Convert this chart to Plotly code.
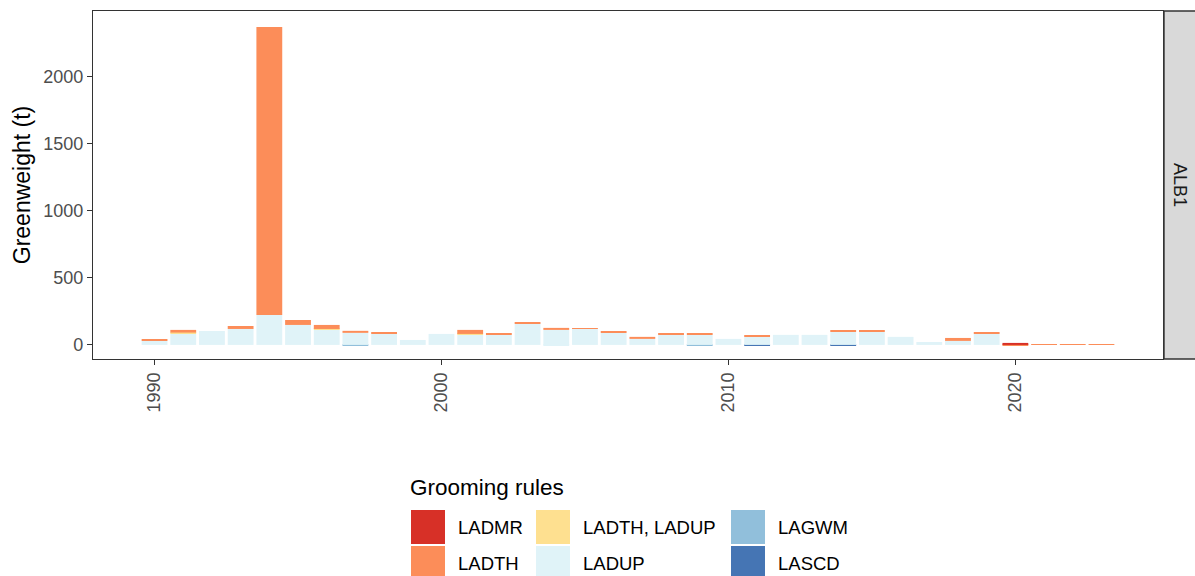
import plotly.graph_objects as go

# Data
years = list(range(1990, 2024))

ladup = [30, 82, 104, 119, 224, 149, 114, 90, 82, 37, 82, 75, 75, 159, 112, 119, 90,
         45, 75, 75, 45, 60, 75, 75, 97, 97, 60, 22, 30, 82, None, None, None, None]
ladth = [7, 20, None, 22, 2146, 37, 30, 15, 7, None, None, 30, 7, 5, 15, 7, 7,
         15, 7, 7, None, 7, None, None, 7, 7, None, None, 22, 7, -5, 6, 6, 6]
ladth_ladup = {1991: 10, 1996: 5, 2001: 7}
ladup_neg = {2004: -6}
lagwm = {1997: -7, 2009: -7}
lascd = {2011: -7, 2014: -7}
ladmr = {2020: 15}

rules = ['LADMR', 'LADTH', 'LADTH, LADUP', 'LADUP', 'LAGWM', 'LASCD']
colors = ['#D73027', '#FC8D59', '#FEE090', '#E0F3F8', '#91BFDB', '#4575B4']
col = dict(zip(rules, colors))

FONT = 'Liberation Sans, Arial, sans-serif'

# panel geometry in px
W, H = 1195, 576
L, R, T, B = 93, 1163, 11, 359


def px_x(p):
    return (p - L) / (R - L)


def px_y(p):
    return (B - p) / (B - T)


def sparse(d):
    return [d.get(y) for y in years]


fig = go.Figure()
# stacking order bottom -> top (ggplot puts first level on top)
series = [
    ('LASCD', sparse(lascd)),
    ('LAGWM', sparse(lagwm)),
    ('LADUP', ladup),
    ('LADTH, LADUP', sparse(ladth_ladup)),
    ('LADTH', ladth),
    ('LADMR', sparse(ladmr)),
]
for name, vals in series:
    fig.add_trace(go.Bar(x=years, y=vals, name=name, marker_color=col[name],
                         marker_line_width=0, showlegend=False))
fig.add_trace(go.Bar(x=years, y=sparse(ladup_neg), name='LADUP', marker_color=col['LADUP'],
                     marker_line_width=0, showlegend=False))

fig.update_layout(
    width=W, height=H,
    margin=dict(l=L, r=W - R, t=T, b=H - B),
    barmode='relative', bargap=0.1,
    plot_bgcolor='white', paper_bgcolor='white',
    font=dict(family=FONT, color='black'),
    showlegend=False,
)
fig.update_xaxes(range=[1987.855, 2025.145], tickvals=[1990, 2000, 2010, 2020],
                 tickangle=-90, ticks='outside', ticklen=5, tickwidth=1.1,
                 tickcolor='#333333', tickfont=dict(size=18, color='#4D4D4D'),
                 showgrid=False, zeroline=False, showline=True, mirror=True,
                 linecolor='#333333', linewidth=1.4)
fig.update_yaxes(range=[-105, 2490], tickvals=[0, 500, 1000, 1500, 2000],
                 ticks='outside', ticklen=5, tickwidth=1.1, tickcolor='#333333',
                 tickfont=dict(size=18, color='#4D4D4D'),
                 title=dict(text='Greenweight (t)', font=dict(size=23, color='black'), standoff=6),
                 showgrid=False, zeroline=False, showline=True, mirror=True,
                 linecolor='#333333', linewidth=1.4)

# facet strip on the right
fig.add_shape(type='rect', xref='paper', yref='paper',
              x0=px_x(1164), x1=px_x(1197), y0=0, y1=1,
              fillcolor='#D9D9D9', line=dict(color='#333333', width=1.4))
fig.add_annotation(text='ALB1', xref='paper', yref='paper', x=px_x(1180), y=0.5,
                   xanchor='center', yanchor='middle',
                   textangle=90, showarrow=False, font=dict(size=18, color='#1A1A1A'))

# legend drawn by hand (2 rows, filled by column)
fig.add_annotation(text='Grooming rules', xref='paper', yref='paper',
                   x=px_x(408), y=px_y(487), xanchor='left', yanchor='middle',
                   showarrow=False, font=dict(size=22.5, color='black'))
key_x = [411, 536, 731]
lab_x = [456, 581, 776]
row_y = [510, 546]
for i, name in enumerate(rules):
    c, r = divmod(i, 2)
    fig.add_shape(type='rect', xref='paper', yref='paper',
                  x0=px_x(key_x[c]), x1=px_x(key_x[c] + 34),
                  y0=px_y(row_y[r] + 34), y1=px_y(row_y[r]),
                  fillcolor=col[name], line=dict(width=0))
    fig.add_annotation(text=name, xref='paper', yref='paper',
                       x=px_x(lab_x[c]), y=px_y(row_y[r] + 17),
                       xanchor='left', yanchor='middle', showarrow=False,
                       font=dict(size=18.5, color='black'))

# drop the default page margin so the figure sits at the window's corner
fig.write_html('out.html', config={'displayModeBar': False},
               post_script="document.body.style.margin='0';")
